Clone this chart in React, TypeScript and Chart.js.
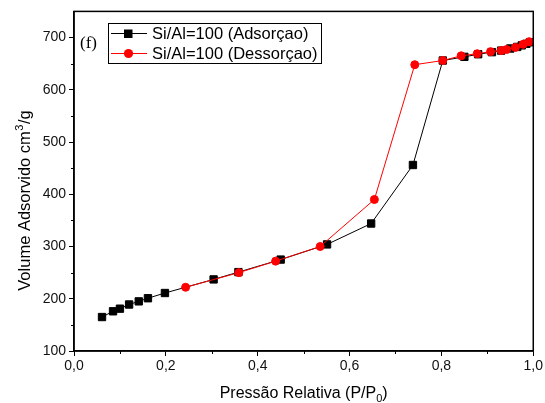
import { useEffect, useRef } from "react";
import { Chart, registerables } from "chart.js";

Chart.register(...registerables);

// Adsorption branch (black squares)
const adsX = [0.061, 0.085, 0.100, 0.120, 0.141, 0.161, 0.198, 0.304, 0.358, 0.450, 0.551, 0.647, 0.738, 0.803, 0.850, 0.880, 0.910, 0.930, 0.950, 0.965, 0.975, 0.985, 0.993];
const adsY = [165, 176, 181, 189, 195, 201, 211, 237, 251, 275, 304, 344, 456, 656, 663, 668, 672, 675, 679, 682, 685, 688, 691];

// Desorption branch (red circles)
const desX = [0.243, 0.359, 0.439, 0.536, 0.654, 0.742, 0.803, 0.843, 0.878, 0.907, 0.930, 0.942, 0.961, 0.978, 0.991];
const desY = [222, 250, 272, 300, 390, 648, 656, 665, 669, 673, 675, 677, 681, 687, 692];

const X_TICKS = [0, 0.2, 0.4, 0.6, 0.8, 1.0];
const X_MINOR = [0.1, 0.3, 0.5, 0.7, 0.9];
const Y_TICKS = [100, 200, 300, 400, 500, 600, 700];
const Y_MINOR = [150, 250, 350, 450, 550, 650];

const LEGEND_LABELS = ["Si/Al=100 (Adsorçao)", "Si/Al=100 (Dessorçao)"];
const PANEL_LABEL = "(f)";
const X_TITLE_MAIN = "Pressão Relativa (P/P";
const X_TITLE_SUB = "0";
const Y_TITLE_MAIN = "Volume Adsorvido cm";
const Y_TITLE_SUP = "3";
const Y_TITLE_END = "/g";

const SANS = "'Liberation Sans', Arial, sans-serif";
const SERIF = "'Liberation Serif', 'Times New Roman', serif";

const decorPlugin = {
  id: "decor",
  afterDraw(chart: any) {
    const { ctx, chartArea: a, scales } = chart;
    const xs = scales.x;
    const ys = scales.y;
    ctx.save();
    // frame
    ctx.strokeStyle = "#000";
    ctx.lineWidth = 1.5;
    ctx.strokeRect(a.left, a.top, a.right - a.left, a.bottom - a.top);
    // minor ticks
    ctx.lineWidth = 1;
    ctx.beginPath();
    X_MINOR.forEach((v) => {
      const px = Math.round(xs.getPixelForValue(v)) + 0.5;
      ctx.moveTo(px, a.bottom);
      ctx.lineTo(px, a.bottom + 3);
    });
    Y_MINOR.forEach((v) => {
      const py = Math.round(ys.getPixelForValue(v)) + 0.5;
      ctx.moveTo(a.left, py);
      ctx.lineTo(a.left - 3, py);
    });
    ctx.stroke();

    // x title
    ctx.fillStyle = "#000";
    ctx.textBaseline = "alphabetic";
    ctx.font = `16px ${SANS}`;
    const wMain = ctx.measureText(X_TITLE_MAIN).width;
    ctx.font = `11px ${SANS}`;
    const wSub = ctx.measureText(X_TITLE_SUB).width;
    ctx.font = `16px ${SANS}`;
    const wEnd = ctx.measureText(")").width;
    const total = wMain + wSub + wEnd;
    const x0 = (a.left + a.right) / 2 - total / 2;
    const by = 398;
    ctx.textAlign = "left";
    ctx.fillText(X_TITLE_MAIN, x0, by);
    ctx.font = `11px ${SANS}`;
    ctx.fillText(X_TITLE_SUB, x0 + wMain, by + 4);
    ctx.font = `16px ${SANS}`;
    ctx.fillText(")", x0 + wMain + wSub, by);

    // y title
    ctx.save();
    ctx.translate(30, 201);
    ctx.rotate(-Math.PI / 2);
    ctx.font = `16.5px ${SANS}`;
    const yw1 = ctx.measureText(Y_TITLE_MAIN).width;
    const yw3 = ctx.measureText(Y_TITLE_END).width;
    ctx.font = `11px ${SANS}`;
    const yw2 = ctx.measureText(Y_TITLE_SUP).width;
    const yt = yw1 + yw2 + yw3;
    const yx = -yt / 2;
    ctx.font = `16.5px ${SANS}`;
    ctx.fillText(Y_TITLE_MAIN, yx, 0);
    ctx.font = `11px ${SANS}`;
    ctx.fillText(Y_TITLE_SUP, yx + yw1 + 0.5, -7);
    ctx.font = `16.5px ${SANS}`;
    ctx.fillText(Y_TITLE_END, yx + yw1 + yw2 + 1, 0);
    ctx.restore();

    // panel label
    ctx.font = `17px ${SERIF}`;
    ctx.textBaseline = "middle";
    ctx.fillText(PANEL_LABEL, 80, 44);

    // legend
    const lx = 108.5, ly = 23.5, lw = 213, lh = 40;
    ctx.fillStyle = "#fff";
    ctx.fillRect(lx, ly, lw, lh);
    ctx.strokeStyle = "#000";
    ctx.lineWidth = 1;
    ctx.strokeRect(lx, ly, lw, lh);
    const rows = [33.5, 53.5];
    const colors = ["#000", "#ff0000"];
    rows.forEach((ry, i) => {
      ctx.strokeStyle = colors[i];
      ctx.lineWidth = 1;
      ctx.beginPath();
      ctx.moveTo(111, ry);
      ctx.lineTo(147, ry);
      ctx.stroke();
      ctx.fillStyle = colors[i];
      if (i === 0) {
        ctx.fillRect(124, ry - 4, 8.5, 8.5);
      } else {
        ctx.beginPath();
        ctx.arc(128.5, ry, 4.6, 0, Math.PI * 2);
        ctx.fill();
      }
      ctx.fillStyle = "#000";
      ctx.font = `16.5px ${SANS}`;
      ctx.textAlign = "left";
      ctx.textBaseline = "middle";
      ctx.fillText(LEGEND_LABELS[i], 152, ry + 1);
    });
    ctx.restore();
  },
};

export default function App() {
  const ref = useRef<HTMLCanvasElement>(null);
  useEffect(() => {
    const ads = adsX.map((x, i) => ({ x, y: adsY[i] }));
    const des = desX.map((x, i) => ({ x, y: desY[i] }));
    const chart = new Chart(ref.current!, {
      type: "line",
      data: {
        datasets: [
          {
            label: LEGEND_LABELS[0],
            data: ads,
            order: 2,
            borderColor: "#000",
            backgroundColor: "#000",
            borderWidth: 1,
            pointStyle: "rect",
            pointRadius: 5.2,
            pointBorderWidth: 1,
            pointBorderColor: "#000",
            pointBackgroundColor: "#000",
            tension: 0,
          },
          {
            label: LEGEND_LABELS[1],
            data: des,
            order: 1,
            borderColor: "#ff0000",
            backgroundColor: "#ff0000",
            borderWidth: 1,
            pointStyle: "circle",
            pointRadius: 4,
            pointBorderWidth: 1,
            pointBorderColor: "#ff0000",
            pointBackgroundColor: "#ff0000",
            tension: 0,
          },
        ],
      },
      options: {
        animation: false,
        responsive: true,
        maintainAspectRatio: false,
        layout: { padding: { left: 0, top: 11, right: 11, bottom: 0 } },
        plugins: { legend: { display: false }, tooltip: { enabled: false } },
        scales: {
          x: {
            type: "linear",
            min: 0,
            max: 1,
            afterBuildTicks: (s: any) => {
              s.ticks = X_TICKS.map((v) => ({ value: v }));
            },
            afterFit: (s: any) => {
              s.height = 52;
            },
            grid: { drawOnChartArea: false, drawTicks: true, tickLength: 5, color: "#000", lineWidth: 1 },
            border: { display: true, color: "#000", width: 1.5 },
            ticks: {
              color: "#111",
              font: { family: SANS, size: 14 },
              padding: 2,
              maxRotation: 0,
              callback: (v: any) => Number(v).toFixed(1).replace(".", ","),
            },
          },
          y: {
            type: "linear",
            min: 100,
            max: 750,
            afterBuildTicks: (s: any) => {
              s.ticks = Y_TICKS.map((v) => ({ value: v }));
            },
            afterFit: (s: any) => {
              s.width = 74;
            },
            grid: { drawOnChartArea: false, drawTicks: true, tickLength: 5, color: "#000", lineWidth: 1 },
            border: { display: true, color: "#000", width: 1.5 },
            ticks: {
              color: "#111",
              font: { family: SANS, size: 14 },
              padding: 3,
              callback: (v: any) => String(v),
            },
          },
        },
      },
      plugins: [decorPlugin],
    });
    return () => chart.destroy();
  }, []);
  return (
    <div style={{ position: "fixed", left: 0, top: 0, width: 545, height: 403, background: "#fff" }}>
      <canvas ref={ref} />
    </div>
  );
}
